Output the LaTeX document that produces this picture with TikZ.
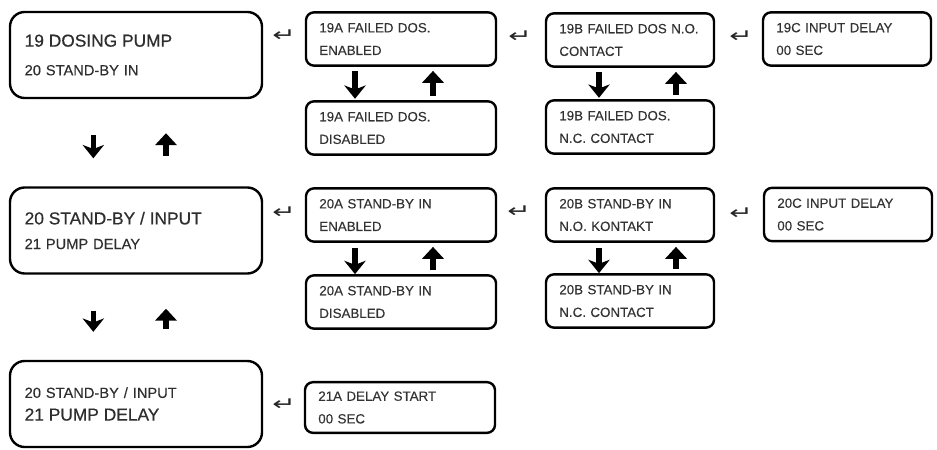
\documentclass[tikz,border=0pt]{standalone}
\usepackage{fontspec}
\setmainfont{Liberation Sans}
\newfontfamily\symfont{DejaVu Sans}
\newfontfamily\heavyfont[FakeBold=0.6]{Liberation Sans}
\newfontfamily\menufont[FakeBold=0.25]{Liberation Sans}
\usetikzlibrary{arrows.meta,positioning}

\newcommand{\bigtxt}{\heavyfont\fontsize{13}{15}\selectfont}
\newcommand{\smalltxt}{\menufont\fontsize{11}{13}\selectfont}
\newcommand{\subtxt}{\menufont\fontsize{10}{12}\selectfont}
\newcommand{\enterkey}{\scalebox{1.5}[1]{↵}}

\begin{document}
\begin{tikzpicture}[x=0.75pt, y=-0.75pt,
    mainbox/.style={draw, line width=1.8pt, rounded corners=11pt, minimum width=189pt, minimum height=64.5pt, text width=167pt, inner xsep=11pt, align=left, font=\smalltxt, text=black!82},
    subbox/.style={draw, line width=1.8pt, rounded corners=6pt, minimum width=142.5pt, minimum height=40pt, text width=122.5pt, inner xsep=10pt, align=left, font=\subtxt, text=black!80},
    narrowbox/.style={subbox, minimum width=126pt, text width=106pt},
    ret/.style={font=\symfont\fontsize{14}{14}\selectfont, inner sep=0pt, text=black!85},
    arrdn/.style={-{Stealth[length=10pt, width=16pt, inset=3pt]}, line width=4.2pt},
    arrup/.style={-{Triangle[length=9pt, width=16pt]}, line width=4.2pt}
]
\useasboundingbox (0,0) rectangle (937,449);

% main menu
\node[mainbox] (m19) at (136,55) {{\bigtxt 19 DOSING PUMP}\\[8.5pt]20 STAND-BY IN};
\node[mainbox] (m20) at (136,230.5) {{\bigtxt 20 STAND-BY / INPUT}\\[5.5pt]21 PUMP DELAY};
\node[mainbox] (m21) at (136,404) {20 STAND-BY / INPUT\\[4pt]{\bigtxt 21 PUMP DELAY}};

% sub menus 19
\node[subbox] (a19en) at (401,39) {19A FAILED DOS.\\[5pt]ENABLED};
\node[subbox] (a19dis) at (401,128) {19A FAILED DOS.\\[5pt]DISABLED};
\node[narrowbox] (b19no) at (630,40) {19B FAILED DOS N.O.\\[5pt]CONTACT};
\node[narrowbox] (b19nc) at (630,127) {19B FAILED DOS.\\[5pt]N.C. CONTACT};
\node[narrowbox] (c19) at (847,39) {19C INPUT DELAY\\[5pt]00 SEC};

% sub menus 20
\node[subbox] (a20en) at (401,215) {20A STAND-BY IN\\[5pt]ENABLED};
\node[subbox] (a20dis) at (401,302) {20A STAND-BY IN\\[5pt]DISABLED};
\node[narrowbox] (b20no) at (630,215) {20B STAND-BY IN\\[5pt]N.O. KONTAKT};
\node[narrowbox] (b20nc) at (630,301) {20B STAND-BY IN\\[5pt]N.C. CONTACT};
\node[narrowbox] (c20) at (848,214.5) {20C INPUT DELAY\\[5pt]00 SEC};

% sub menu 21
\node[subbox, minimum width=139pt, minimum height=38pt] (a21) at (400,407.5) {21A DELAY START\\[5pt]00 SEC};

% enter keys
\node[ret] (k19a) at (284,36) {\enterkey};
\node[ret] (k19b) at (520,37) {\enterkey};
\node[ret] (k19c) at (741,37) {\enterkey};
\node[ret] (k20a) at (284,213) {\enterkey};
\node[ret] (k20b) at (519,212) {\enterkey};
\node[ret] (k20c) at (741,214) {\enterkey};
\node[ret] (k21a) at (284,405) {\enterkey};

% up / down between main items
\draw[arrdn, shorten <=27pt, shorten >=21pt] ([xshift=-32pt]m19.south) -- ([xshift=-32pt]m20.north);
\draw[arrup, shorten <=23pt, shorten >=25.5pt] ([xshift=22.5pt]m20.north) -- ([xshift=22.5pt]m19.south);
\draw[arrdn, shorten <=27pt, shorten >=21pt] ([xshift=-32pt]m20.south) -- ([xshift=-32pt]m21.north);
\draw[arrup, shorten <=23pt, shorten >=25.5pt] ([xshift=22.5pt]m21.north) -- ([xshift=22.5pt]m20.south);

% up / down between options
\draw[arrdn, shorten <=3pt, shorten >=1pt] ([xshift=-34.5pt]a19en.south) -- ([xshift=-34.5pt]a19dis.north);
\draw[arrup, shorten <=3pt, shorten >=3pt] ([xshift=24pt]a19dis.north) -- ([xshift=24pt]a19en.south);
\draw[arrdn, shorten <=3pt, shorten >=1pt] ([xshift=-23.25pt]b19no.south) -- ([xshift=-23.25pt]b19nc.north);
\draw[arrup, shorten <=3pt, shorten >=3pt] ([xshift=34.5pt]b19nc.north) -- ([xshift=34.5pt]b19no.south);
\draw[arrdn, shorten <=4pt, shorten >=0pt] ([xshift=-34.5pt]a20en.south) -- ([xshift=-34.5pt]a20dis.north);
\draw[arrup, shorten <=3pt, shorten >=3pt] ([xshift=24pt]a20dis.north) -- ([xshift=24pt]a20en.south);
\draw[arrdn, shorten <=4pt, shorten >=0pt] ([xshift=-23.25pt]b20no.south) -- ([xshift=-23.25pt]b20nc.north);
\draw[arrup, shorten <=3pt, shorten >=3pt] ([xshift=34.5pt]b20nc.north) -- ([xshift=34.5pt]b20no.south);
\end{tikzpicture}
\end{document}
